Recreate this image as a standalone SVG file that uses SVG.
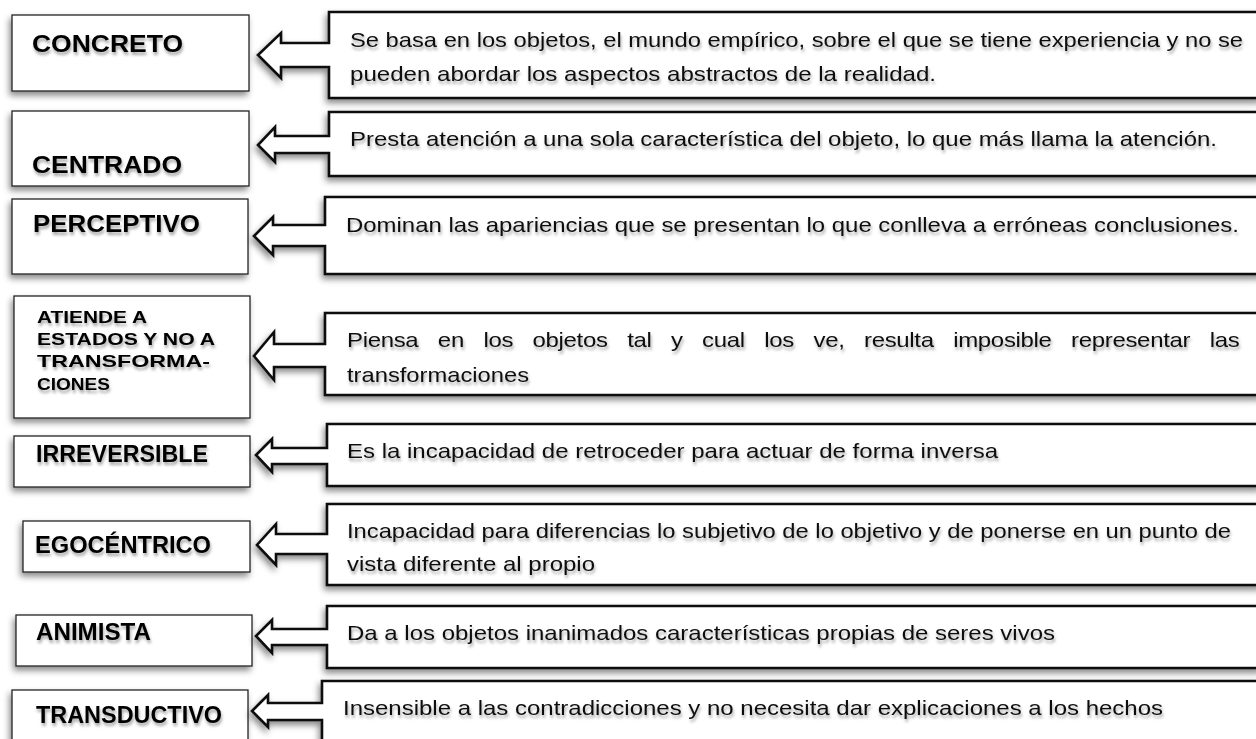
<svg xmlns="http://www.w3.org/2000/svg" width="1256" height="739" viewBox="0 0 1256 739">
<defs>
<filter id="sh" x="-10%" y="-20%" width="120%" height="160%">
<feDropShadow dx="-2" dy="4" stdDeviation="3" flood-color="#000" flood-opacity="0.45"/>
</filter>
<filter id="tsh" x="-5%" y="-30%" width="110%" height="180%">
<feDropShadow dx="1" dy="3" stdDeviation="1.5" flood-color="#000" flood-opacity="0.35"/>
</filter>
</defs>
<style>
.box{fill:#fff;stroke:#222;stroke-width:1.3;filter:url(#sh)}
.call{fill:#fff;stroke:#111;stroke-width:2.6;stroke-linejoin:miter;filter:url(#sh)}
.lab{font-family:"Liberation Sans",Arial,sans-serif;font-weight:bold;font-size:24px;fill:#000;filter:url(#tsh)}
.lab2{font-family:"Liberation Sans",Arial,sans-serif;font-weight:bold;font-size:17px;fill:#000;filter:url(#tsh)}
.desc{font-family:"Liberation Sans",Arial,sans-serif;font-size:21px;fill:#111;filter:url(#tsh)}
</style>
<rect width="1256" height="739" fill="#fff"/>

<g id="connectors"></g>

<g id="n1">
<rect class="box" x="12" y="15" width="237" height="76"/>
<text class="lab" x="32" y="52" textLength="151" lengthAdjust="spacingAndGlyphs">CONCRETO</text>
</g>
<g id="c1">
<path class="call" d="M329,12 H1262 V98 H329 V67 H281 V78 L258,55 L281,33 V43 H329 Z"/>
<text class="desc" x="350" y="47" textLength="893" lengthAdjust="spacingAndGlyphs">Se basa en los objetos, el mundo empírico, sobre el que se tiene experiencia y no se</text>
<text class="desc" x="350" y="81" textLength="586" lengthAdjust="spacingAndGlyphs">pueden abordar los aspectos abstractos de la realidad.</text>
</g>

<g id="n2">
<rect class="box" x="12" y="111" width="237" height="75"/>
<text class="lab" x="32" y="173" textLength="150" lengthAdjust="spacingAndGlyphs">CENTRADO</text>
</g>
<g id="c2">
<path class="call" d="M329,112 H1262 V176 H329 V153 H275 V162 L258,145 L275,127 V136 H329 Z"/>
<text class="desc" x="350" y="146" textLength="867" lengthAdjust="spacingAndGlyphs">Presta atención a una sola característica del objeto, lo que más llama la atención.</text>
</g>

<g id="n3">
<rect class="box" x="12" y="199" width="236" height="75"/>
<text class="lab" x="33" y="232" textLength="167" lengthAdjust="spacingAndGlyphs">PERCEPTIVO</text>
</g>
<g id="c3">
<path class="call" d="M325,197 H1262 V274 H325 V246 H273 V255 L254,236 L273,217 V225 H325 Z"/>
<text class="desc" x="346" y="232" textLength="893" lengthAdjust="spacingAndGlyphs">Dominan las apariencias que se presentan lo que conlleva a erróneas conclusiones.</text>
</g>

<g id="n4">
<rect class="box" x="14" y="296" width="236" height="122"/>
<text class="lab2" x="37" y="323" textLength="110" lengthAdjust="spacingAndGlyphs">ATIENDE A</text>
<text class="lab2" x="37" y="345" textLength="178" lengthAdjust="spacingAndGlyphs">ESTADOS Y NO A</text>
<text class="lab2" x="37" y="367" textLength="173" lengthAdjust="spacingAndGlyphs">TRANSFORMA-</text>
<text class="lab2" x="37" y="390" textLength="73" lengthAdjust="spacingAndGlyphs">CIONES</text>
</g>
<g id="c4">
<path class="call" d="M325,313 H1262 V395 H325 V367 H274 V380 L254,356 L274,332 V344 H325 Z"/>
<text class="desc" transform="translate(347,347) scale(1.143,1)" x="0" y="0" word-spacing="11.5" textLength="781" lengthAdjust="spacing">Piensa en los objetos tal y cual los ve, resulta imposible representar las</text>
<text class="desc" x="347" y="382" textLength="182" lengthAdjust="spacingAndGlyphs">transformaciones</text>
</g>

<g id="n5">
<rect class="box" x="14" y="436" width="236" height="51"/>
<text class="lab" x="36" y="462" textLength="172" lengthAdjust="spacingAndGlyphs">IRREVERSIBLE</text>
</g>
<g id="c5">
<path class="call" d="M327,424 H1262 V486 H327 V464 H272 V472 L256,455 L272,439 V448 H327 Z"/>
<text class="desc" x="347" y="458" textLength="651" lengthAdjust="spacingAndGlyphs">Es la incapacidad de retroceder para actuar de forma inversa</text>
</g>

<g id="n6">
<rect class="box" x="23" y="521" width="227" height="51"/>
<text class="lab" x="35" y="553" textLength="176" lengthAdjust="spacingAndGlyphs">EGOCÉNTRICO</text>
</g>
<g id="c6">
<path class="call" d="M327,504 H1262 V585 H327 V554 H276 V565 L257,545 L276,524 V534 H327 Z"/>
<text class="desc" x="347" y="538" textLength="884" lengthAdjust="spacingAndGlyphs">Incapacidad para diferencias lo subjetivo de lo objetivo y de ponerse en un punto de</text>
<text class="desc" x="347" y="571" textLength="248" lengthAdjust="spacingAndGlyphs">vista diferente al propio</text>
</g>

<g id="n7">
<rect class="box" x="16" y="615" width="236" height="51"/>
<text class="lab" x="36" y="640" textLength="115" lengthAdjust="spacingAndGlyphs">ANIMISTA</text>
</g>
<g id="c7">
<path class="call" d="M327,606 H1262 V668 H327 V645 H272 V653 L256,636 L272,620 V629 H327 Z"/>
<text class="desc" x="347" y="640" textLength="708" lengthAdjust="spacingAndGlyphs">Da a los objetos inanimados características propias de seres vivos</text>
</g>

<g id="n8">
<rect class="box" x="12" y="690" width="236" height="70"/>
<text class="lab" x="36" y="723" textLength="186" lengthAdjust="spacingAndGlyphs">TRANSDUCTIVO</text>
</g>
<g id="c8">
<path class="call" d="M322,681 H1262 V760 H322 V720 H268 V727 L252,711 L268,695 V703 H322 Z"/>
<text class="desc" x="343" y="715" textLength="820" lengthAdjust="spacingAndGlyphs">Insensible a las contradicciones y no necesita dar explicaciones a los hechos</text>
</g>
</svg>
